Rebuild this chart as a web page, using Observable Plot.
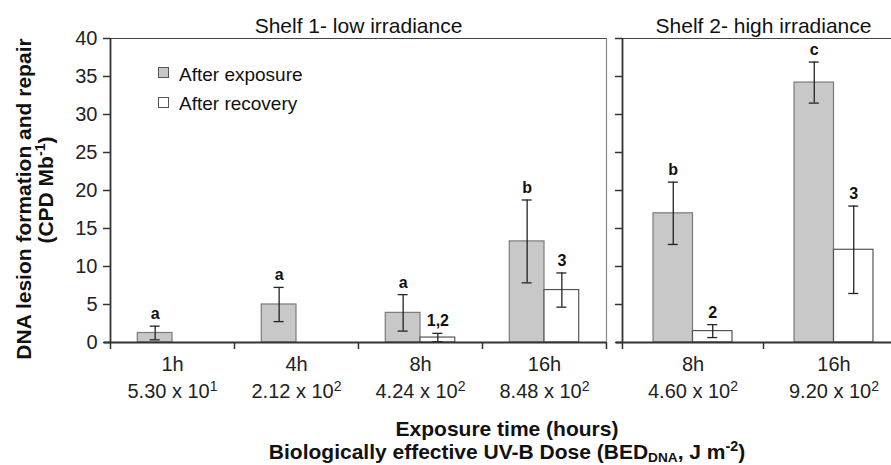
<!DOCTYPE html>
<html>
<head>
<meta charset="utf-8">
<script src="https://cdn.jsdelivr.net/npm/d3@7"></script>
<script src="https://cdn.jsdelivr.net/npm/@observablehq/plot@0.6"></script>
<style>
  html, body { margin: 0; padding: 0; overflow: hidden; background: #fff; }
  #wrap { position: relative; width: 891px; height: 465px; overflow: hidden;
          font-family: "Liberation Sans", Arial, sans-serif; color: #111; }
  .abs { position: absolute; white-space: nowrap; line-height: 1; }
  .plot { position: absolute; top: 0; }
  .ytitle { font-weight: bold; font-size: 21px; transform: translate(-50%, -50%) rotate(-90deg); }
  .xtitle { font-weight: bold; font-size: 21px; transform: translateX(-50%); }
  sup { line-height: 0; font-size: 68%; vertical-align: 0.55em; }
  sub { line-height: 0; font-size: 65%; vertical-align: -0.2em; }
  .legtxt { position: absolute; font-size: 19px; line-height: 1; white-space: nowrap; }
  .sw { position: absolute; width: 11px; height: 11px; box-sizing: border-box; border: 1px solid #555; }
</style>
</head>
<body>
<div id="wrap"></div>
<script>
// ---------- data ----------
const shelf1Categories = ["1h", "4h", "8h", "16h"];
const shelf1Doses = ["5.30 x 10¹", "2.12 x 10²", "4.24 x 10²", "8.48 x 10²"];
const shelf1Exposure = [1.25, 5.0, 3.9, 13.3];
const shelf1ExposureErr = [0.9, 2.25, 2.4, 5.45];
const shelf1Recovery = [0, 0, 0.65, 6.9];
const shelf1RecoveryErr = [0, 0, 0.55, 2.25];
const shelf1ExposureLetters = ["a", "a", "a", "b"];
const shelf1RecoveryLetters = ["", "", "1,2", "3"];

const shelf2Categories = ["8h", "16h"];
const shelf2Doses = ["4.60 x 10²", "9.20 x 10²"];
const shelf2Exposure = [17.0, 34.2];
const shelf2ExposureErr = [4.1, 2.7];
const shelf2Recovery = [1.5, 12.2];
const shelf2RecoveryErr = [0.85, 5.75];
const shelf2ExposureLetters = ["b", "c"];
const shelf2RecoveryLetters = ["2", "3"];

const yTicks = [0, 5, 10, 15, 20, 25, 30, 35, 40];
const seriesNames = ["After exposure", "After recovery"];
const panelTitles = ["Shelf 1- low irradiance", "Shelf 2- high irradiance"];

// ---------- helpers ----------
const FONT = '"Liberation Sans", Arial, sans-serif';
const GRAY = "#c8c8c8";
const W = 0.28; // bar width in category units

function buildRows(cats, exp, expErr, rec, recErr, expLab, recLab) {
  const rows = [];
  cats.forEach((c, i) => {
    const cx = i + 0.5;
    rows.push({i, series: seriesNames[0], value: exp[i], err: expErr[i], label: expLab[i], x1: cx - W, x2: cx, cx: cx - W / 2});
    rows.push({i, series: seriesNames[1], value: rec[i], err: recErr[i], label: recLab[i], x1: cx, x2: cx + W, cx: cx + W / 2});
  });
  return rows;
}

function superscripts(svg) {
  const ns = "http://www.w3.org/2000/svg";
  const map = {"¹": "1", "²": "2"};
  svg.querySelectorAll("tspan").forEach(ts => {
    const m = ts.textContent.match(/^(.*?)([¹²]+)$/);
    if (!m) return;
    ts.textContent = m[1];
    const sup = document.createElementNS(ns, "tspan");
    sup.setAttribute("dy", "-7");
    sup.setAttribute("font-size", "14");
    sup.textContent = m[2].split("").map(c => map[c]).join("");
    ts.appendChild(sup);
  });
}

function panel({cats, doses, rows, title, width, marginLeft, marginRight, showYLabels, isLeft}) {
  const n = cats.length;
  const withErr = rows.filter(d => d.err > 0);
  const marks = [
    Plot.rectY(rows, {x1: "x1", x2: "x2", y: "value",
      fill: d => d.series === seriesNames[0] ? GRAY : "#ffffff",
      stroke: d => d.series === seriesNames[0] ? "#7a7a7a" : "#555", strokeWidth: 1.2}),
    Plot.ruleX(withErr, {x: "cx", y1: d => d.value - d.err, y2: d => d.value + d.err, stroke: "#222", strokeWidth: 1.3}),
    Plot.ruleY(withErr, {x1: "cx", x2: "cx", y: d => d.value + d.err, insetLeft: -5, insetRight: -5, stroke: "#222", strokeWidth: 1.3}),
    Plot.ruleY(withErr, {x1: "cx", x2: "cx", y: d => d.value - d.err, insetLeft: -5, insetRight: -5, stroke: "#222", strokeWidth: 1.3}),
    Plot.text(rows.filter(d => d.label), {x: "cx", y: d => d.value + d.err, text: "label", lineAnchor: "bottom", dy: -7,
      fontWeight: "bold", fontSize: 16, fill: "#111"}),
    // frame pieces
    Plot.ruleY([0], {stroke: "#333", strokeWidth: 1.8, insetLeft: -6}),
    Plot.ruleY([40], {stroke: "#444", strokeWidth: 1.2}),
    Plot.ruleX([0], {stroke: "#333", strokeWidth: 1.8}),
    Plot.axisY({ticks: yTicks, tickSize: 7, tickPadding: 6, fontSize: 20, stroke: "#333", strokeWidth: 1.5, label: null,
      tickFormat: showYLabels ? d => String(d) : () => ""}),
    Plot.axisX({ticks: d3.range(0, n + 1), tickSize: 7, stroke: "#333", strokeWidth: 1.5, label: null, tickFormat: () => ""}),
    Plot.axisX({ticks: d3.range(n).map(i => i + 0.5), tickSize: 0, tickPadding: 9, fontSize: 20, lineHeight: 1.35, label: null,
      tickFormat: d => cats[Math.floor(d)] + "\n" + doses[Math.floor(d)]}),
    Plot.text([title], {frameAnchor: "top", dy: -20, fontSize: 21, fill: "#111"})
  ];
  if (isLeft) marks.push(Plot.ruleX([n], {stroke: "#888", strokeWidth: 1.2}));
  const svg = Plot.plot({
    width, height: 465,
    marginTop: 38, marginBottom: 123, marginLeft, marginRight,
    x: {domain: [0, n], axis: null},
    y: {domain: [0, 40], axis: null},
    style: {fontFamily: FONT, fontSize: "18px", color: "#222", background: "transparent", overflow: "visible"},
    marks
  });
  superscripts(svg);
  return svg;
}

const wrap = document.getElementById("wrap");

const left = panel({
  cats: shelf1Categories, doses: shelf1Doses,
  rows: buildRows(shelf1Categories, shelf1Exposure, shelf1ExposureErr, shelf1Recovery, shelf1RecoveryErr, shelf1ExposureLetters, shelf1RecoveryLetters),
  title: panelTitles[0], width: 612, marginLeft: 110, marginRight: 6, showYLabels: true, isLeft: true
});
left.classList.add("plot");
left.style.left = "0px";
wrap.appendChild(left);

const right = panel({
  cats: shelf2Categories, doses: shelf2Doses,
  rows: buildRows(shelf2Categories, shelf2Exposure, shelf2ExposureErr, shelf2Recovery, shelf2RecoveryErr, shelf2ExposureLetters, shelf2RecoveryLetters),
  title: panelTitles[1], width: 344, marginLeft: 62, marginRight: 0, showYLabels: false, isLeft: false
});
right.classList.add("plot");
right.style.left = "560px";
wrap.appendChild(right);

// legend
const leg = document.createElement("div");
leg.innerHTML =
  `<div class="sw" style="left:158px;top:67px;background:${GRAY}"></div>` +
  `<div class="legtxt" style="left:179px;top:65px">${seriesNames[0]}</div>` +
  `<div class="sw" style="left:158px;top:97px;background:#fff"></div>` +
  `<div class="legtxt" style="left:179px;top:94px">${seriesNames[1]}</div>`;
wrap.appendChild(leg);

// axis titles
const t = document.createElement("div");
t.innerHTML =
  `<div class="abs xtitle" style="left:507px;top:418px">Exposure time (hours)</div>` +
  `<div class="abs xtitle" style="left:507px;top:441px">Biologically effective UV-B Dose (BED<sub>DNA</sub>, J m<sup>-2</sup>)</div>` +
  `<div class="abs ytitle" style="left:23px;top:199px">DNA lesion formation and repair</div>` +
  `<div class="abs ytitle" style="left:45px;top:190px">(CPD Mb<sup>-1</sup>)</div>`;
wrap.appendChild(t);
</script>
</body>
</html>
